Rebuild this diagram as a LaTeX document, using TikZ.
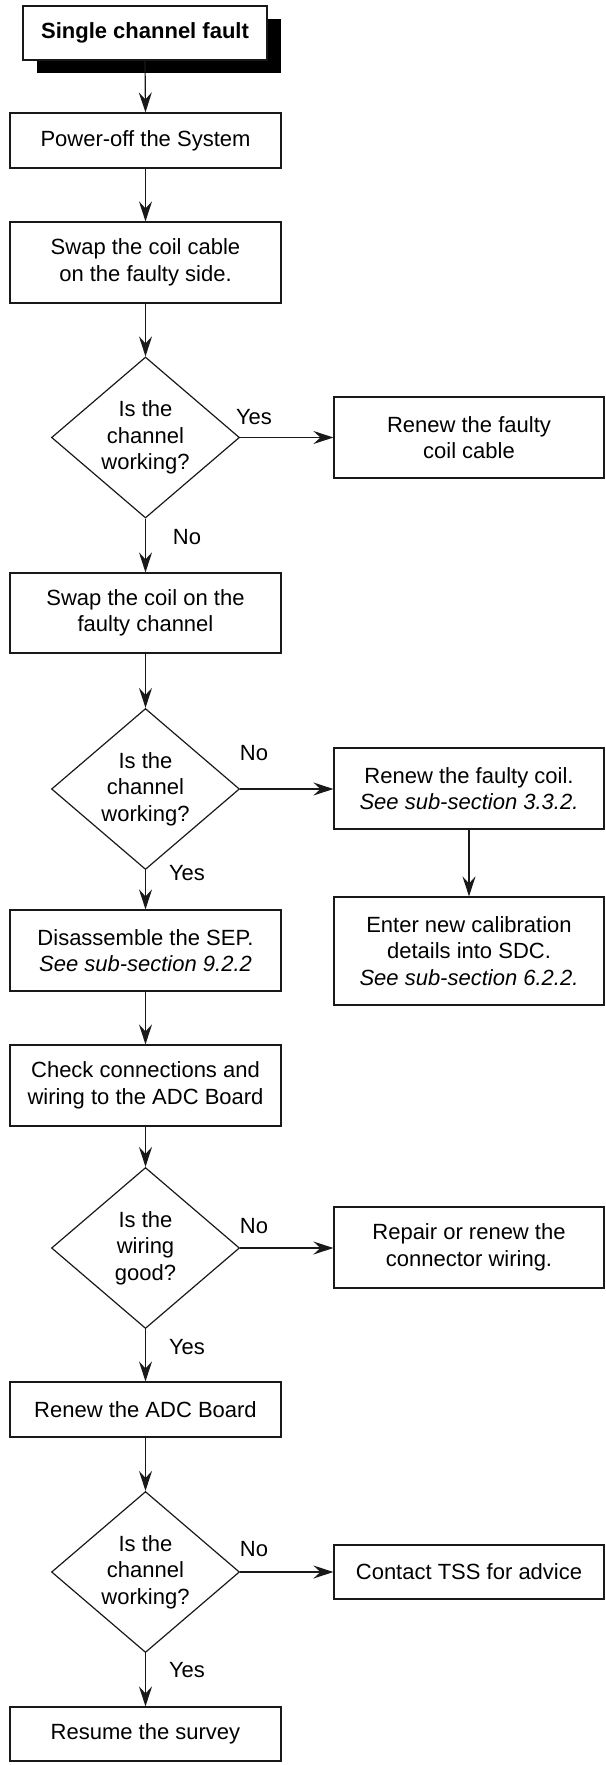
\documentclass[tikz,border=0pt]{standalone}
\usepackage{fontspec}
\setmainfont{Liberation Sans}
\usetikzlibrary{shapes.geometric,arrows.meta,shadows}

\tikzset{
  txt/.style={font=\fontsize{11pt}{13.25pt}\selectfont},
  box/.style={txt, draw=black!90, line width=0.6pt, fill=white, align=center,
    inner sep=0pt, minimum width=135.5pt},
  rbox/.style={box, minimum width=135pt},
  dia/.style={txt, diamond, draw=black!90, line width=0.6pt, aspect=1.17,
    inner sep=0pt, minimum width=94pt, minimum height=80.5pt, align=center},
  lbl/.style={txt, inner sep=0pt},
  arr/.style={line width=0.6pt, draw=black!90,
    -{Stealth[length=10pt,width=6.5pt,inset=3.5pt]}},
  startbox/.style={box, minimum width=122pt, minimum height=27pt,
    font=\fontsize{11pt}{13.25pt}\selectfont\bfseries,
    drop shadow={shadow xshift=7pt, shadow yshift=-6.5pt, opacity=1, fill=black}}
}

\begin{document}
\begin{tikzpicture}[x=0.5pt, y=-0.5pt]
\useasboundingbox (0,0) rectangle (605,1765);

% left column
\node[startbox] (start) at (145,33) {Single channel fault};
\node[box, minimum height=27.5pt] (power) at (145.5,140.5) {Power-off the System};
\node[box, minimum height=40.5pt] (swapcable) at (145.5,262.5) {Swap the coil cable\\on the faulty side.};
\node[dia] (d1) at (145.5,437.5) {Is the\\channel\\working?};
\node[box, minimum height=40pt] (swapcoil) at (145.5,613) {Swap the coil on the\\faulty channel};
\node[dia] (d2) at (145.5,789) {Is the\\channel\\working?};
\node[box, minimum height=40.5pt] (disasm) at (145.5,950.5) {Disassemble the SEP.\\\textit{See sub-section 9.2.2}};
\node[box, minimum height=40.5pt] (check) at (145.5,1085.5) {Check connections and\\wiring to the ADC Board};
\node[dia] (d3) at (145.5,1248) {Is the\\wiring\\good?};
\node[box, minimum height=27.5pt] (adc) at (145.5,1409.5) {Renew the ADC Board};
\node[dia] (d4) at (145.5,1572) {Is the\\channel\\working?};
\node[box, minimum height=27pt] (resume) at (145.5,1734) {Resume the survey};

% right column
\node[rbox, minimum height=40.5pt] (cable) at (469,437.5) {Renew the faulty\\coil cable};
\node[rbox, minimum height=40.5pt] (coil) at (469,788.5) {Renew the faulty coil.\\\textit{See sub-section 3.3.2.}};
\node[rbox, minimum height=54pt] (enter) at (469,951) {Enter new calibration\\details into SDC.\\\textit{See sub-section 6.2.2.}};
\node[rbox, minimum height=40.5pt] (repair) at (469,1247.5) {Repair or renew the\\connector wiring.};
\node[rbox, minimum height=27pt] (contact) at (469,1572) {Contact TSS for advice};

% labels
\node[lbl] (y1) at (254,417) {Yes};
\node[lbl] (n1) at (187,537) {No};
\node[lbl] (n2) at (254,753) {No};
\node[lbl] (y2) at (187,873) {Yes};
\node[lbl] (n3) at (254,1226) {No};
\node[lbl] (y3) at (187,1347) {Yes};
\node[lbl] (n4) at (254,1549) {No};
\node[lbl] (y4) at (187,1670) {Yes};

% connectors
\draw[arr] (start.south) -- (power.north);
\draw[arr] (power.south) -- (swapcable.north);
\draw[arr] (swapcable.south) -- (d1.north);
\draw[arr] (d1.east) -- (d1.east -| cable.west);
\draw[arr] (d1.south) -- (swapcoil.north);
\draw[arr] (swapcoil.south) -- (d2.north);
\draw[arr] (d2.east) -- (d2.east -| coil.west);
\draw[arr] (coil.south) -- (enter.north);
\draw[arr] (d2.south) -- (disasm.north);
\draw[arr] (disasm.south) -- (check.north);
\draw[arr] (check.south) -- (d3.north);
\draw[arr] (d3.east) -- (d3.east -| repair.west);
\draw[arr] (d3.south) -- (adc.north);
\draw[arr] (adc.south) -- (d4.north);
\draw[arr] (d4.east) -- (d4.east -| contact.west);
\draw[arr] (d4.south) -- (resume.north);
\end{tikzpicture}
\end{document}
